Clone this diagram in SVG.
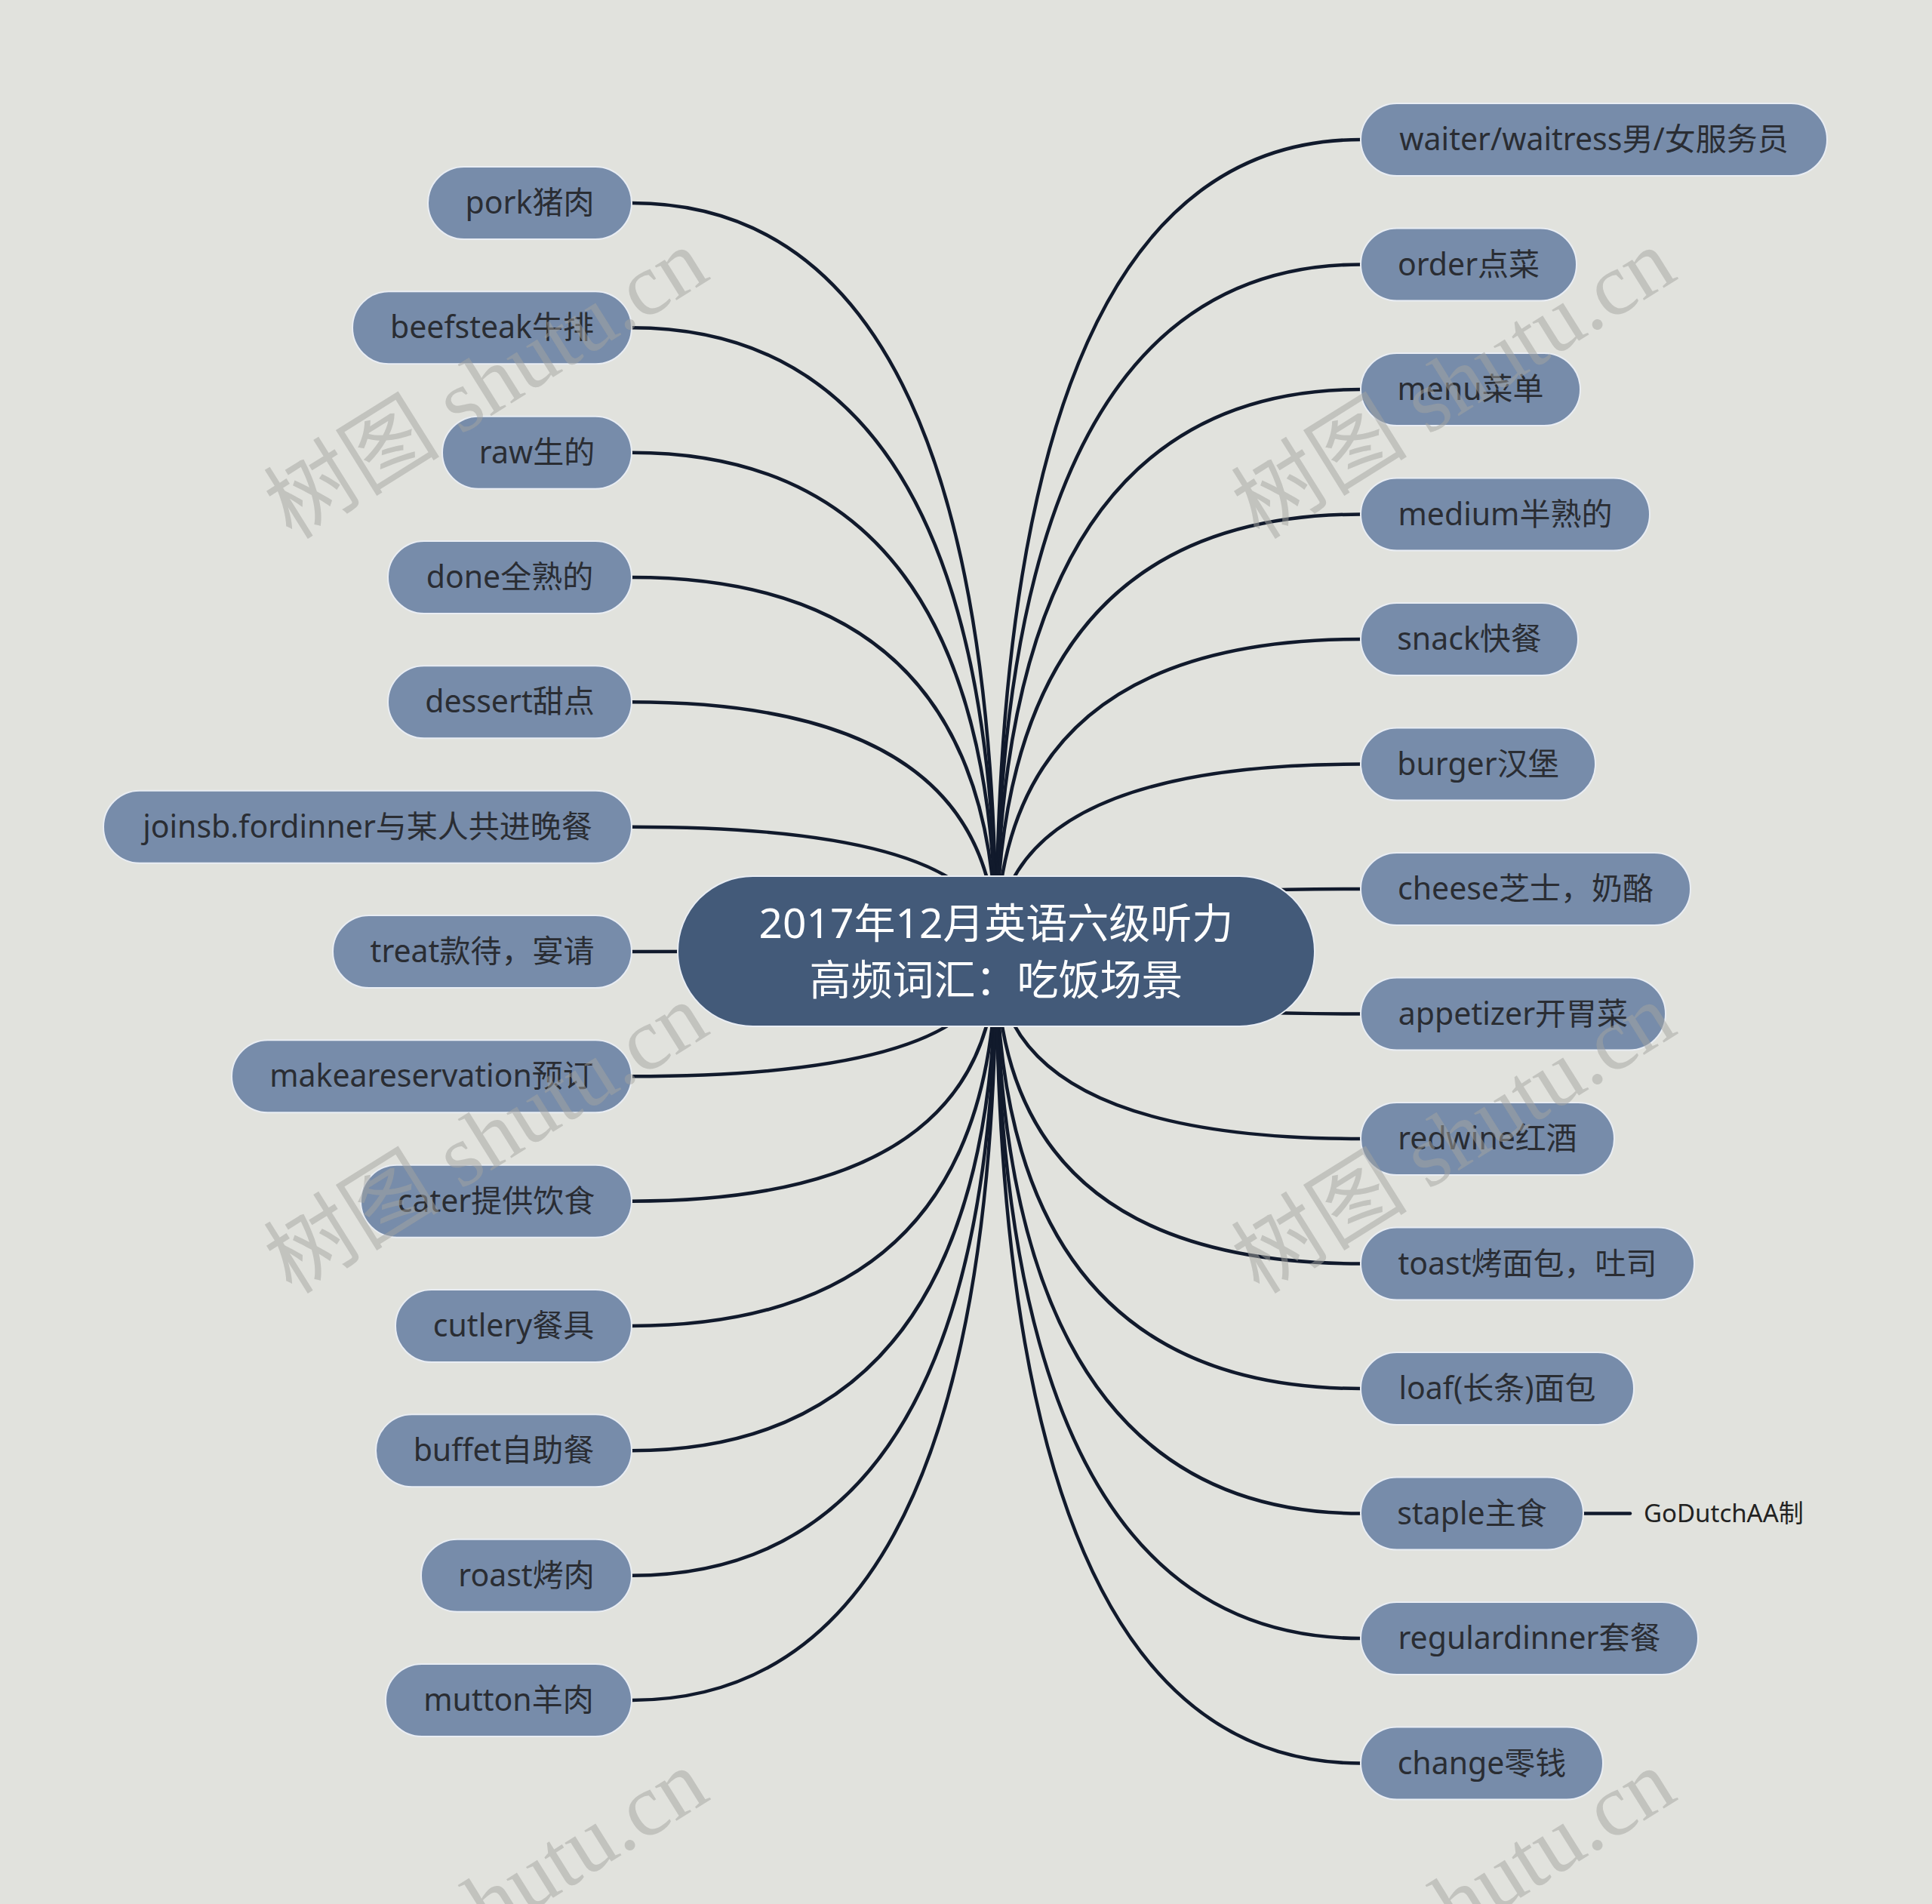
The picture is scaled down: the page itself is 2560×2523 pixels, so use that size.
<svg xmlns="http://www.w3.org/2000/svg" width="2560" height="2523" viewBox="0 0 2560 2523">
<style>
.bg{fill:#e1e2dd}
.link{fill:none;stroke:#111a2c;stroke-width:4.5;stroke-linecap:round}
.node rect{fill:#778caa;stroke:#e9edf3;stroke-width:2}
.node text{font-family:"Noto Sans","Noto Sans CJK SC",sans-serif;font-size:41px;fill:#2a2d33;text-anchor:middle}
.root rect{fill:#435a79;stroke:#e9edf3;stroke-width:2}
.root text{font-family:"Noto Sans","Noto Sans CJK SC",sans-serif;font-size:55px;fill:#ffffff;text-anchor:middle}
.label{font-family:"Noto Sans","Noto Sans CJK SC",sans-serif;font-size:33px;fill:#222222}
.wm{font-family:"Liberation Serif","Noto Sans CJK SC",serif;font-size:117px;fill:#a3a3a0;fill-opacity:0.5;text-anchor:middle}
</style>
<rect class="bg" x="0" y="0" width="2560" height="2523"/>
<g id="connectors">
<path class="link" d="M1320 1260 Q1320 269 837 269"/>
<path class="link" d="M1320 1260 Q1320 434.3 837 434.3"/>
<path class="link" d="M1320 1260 Q1320 599.7 837 599.7"/>
<path class="link" d="M1320 1260 Q1320 765 837 765"/>
<path class="link" d="M1320 1260 Q1320 930.3 837 930.3"/>
<path class="link" d="M1320 1260 Q1320 1095.7 837 1095.7"/>
<path class="link" d="M1320 1260 L837 1261"/>
<path class="link" d="M1320 1260 Q1320 1426.3 837 1426.3"/>
<path class="link" d="M1320 1260 Q1320 1591.7 837 1591.7"/>
<path class="link" d="M1320 1260 Q1320 1757 837 1757"/>
<path class="link" d="M1320 1260 Q1320 1922.3 837 1922.3"/>
<path class="link" d="M1320 1260 Q1320 2087.7 837 2087.7"/>
<path class="link" d="M1320 1260 Q1320 2253 837 2253"/>
<path class="link" d="M1320 1260 Q1320 185 1803 185"/>
<path class="link" d="M1320 1260 Q1320 350.5 1803 350.5"/>
<path class="link" d="M1320 1260 Q1320 516 1803 516"/>
<path class="link" d="M1320 1260 Q1320 681.5 1803 681.5"/>
<path class="link" d="M1320 1260 Q1320 847 1803 847"/>
<path class="link" d="M1320 1260 Q1320 1012.5 1803 1012.5"/>
<path class="link" d="M1320 1260 Q1320 1178 1803 1178"/>
<path class="link" d="M1320 1260 Q1320 1343.5 1803 1343.5"/>
<path class="link" d="M1320 1260 Q1320 1509 1803 1509"/>
<path class="link" d="M1320 1260 Q1320 1674.5 1803 1674.5"/>
<path class="link" d="M1320 1260 Q1320 1840 1803 1840"/>
<path class="link" d="M1320 1260 Q1320 2005.5 1803 2005.5"/>
<path class="link" d="M1320 1260 Q1320 2171 1803 2171"/>
<path class="link" d="M1320 1260 Q1320 2336.5 1803 2336.5"/>
<path class="link" d="M2098 2005.5 L2160 2005.5"/>
</g>
<g id="root" class="root">
<rect x="898" y="1161" width="844" height="199" rx="99.5"/>
<text x="1320" y="1243">2017年12月英语六级听力</text>
<text x="1320" y="1318">高频词汇：吃饭场景</text>
</g>
<g id="n-pork" class="node"><rect x="567" y="221" width="270" height="96" rx="48"/><text x="702" y="283">pork猪肉</text></g>
<g id="n-beefsteak" class="node"><rect x="467" y="386.3" width="370" height="96" rx="48"/><text x="652" y="448.3">beefsteak牛排</text></g>
<g id="n-raw" class="node"><rect x="586" y="551.7" width="251" height="96" rx="48"/><text x="711.5" y="613.7">raw生的</text></g>
<g id="n-done" class="node"><rect x="514" y="717" width="323" height="96" rx="48"/><text x="675.5" y="779">done全熟的</text></g>
<g id="n-dessert" class="node"><rect x="514" y="882.3" width="323" height="96" rx="48"/><text x="675.5" y="944.3">dessert甜点</text></g>
<g id="n-join" class="node"><rect x="137" y="1047.7" width="700" height="96" rx="48"/><text x="487" y="1109.7">joinsb.fordinner与某人共进晚餐</text></g>
<g id="n-treat" class="node"><rect x="441" y="1213" width="396" height="96" rx="48"/><text x="639" y="1275">treat款待，宴请</text></g>
<g id="n-make" class="node"><rect x="307" y="1378.3" width="530" height="96" rx="48"/><text x="572" y="1440.3">makeareservation预订</text></g>
<g id="n-cater" class="node"><rect x="478" y="1543.7" width="359" height="96" rx="48"/><text x="657.5" y="1605.7">cater提供饮食</text></g>
<g id="n-cutlery" class="node"><rect x="524" y="1709" width="313" height="96" rx="48"/><text x="680.5" y="1771">cutlery餐具</text></g>
<g id="n-buffet" class="node"><rect x="498" y="1874.3" width="339" height="96" rx="48"/><text x="667.5" y="1936.3">buffet自助餐</text></g>
<g id="n-roast" class="node"><rect x="558" y="2039.7" width="279" height="96" rx="48"/><text x="697.5" y="2101.7">roast烤肉</text></g>
<g id="n-mutton" class="node"><rect x="511" y="2205" width="326" height="96" rx="48"/><text x="674" y="2267">mutton羊肉</text></g>
<g id="n-waiter" class="node"><rect x="1803" y="137" width="618" height="96" rx="48"/><text x="2112" y="199">waiter/waitress男/女服务员</text></g>
<g id="n-order" class="node"><rect x="1803" y="302.5" width="286" height="96" rx="48"/><text x="1946" y="364.5">order点菜</text></g>
<g id="n-menu" class="node"><rect x="1803" y="468" width="291" height="96" rx="48"/><text x="1948.5" y="530">menu菜单</text></g>
<g id="n-medium" class="node"><rect x="1803" y="633.5" width="383" height="96" rx="48"/><text x="1994.5" y="695.5">medium半熟的</text></g>
<g id="n-snack" class="node"><rect x="1803" y="799" width="288" height="96" rx="48"/><text x="1947" y="861">snack快餐</text></g>
<g id="n-burger" class="node"><rect x="1803" y="964.5" width="311" height="96" rx="48"/><text x="1958.5" y="1026.5">burger汉堡</text></g>
<g id="n-cheese" class="node"><rect x="1803" y="1130" width="437" height="96" rx="48"/><text x="2021.5" y="1192">cheese芝士，奶酪</text></g>
<g id="n-appetizer" class="node"><rect x="1803" y="1295.5" width="404" height="96" rx="48"/><text x="2005" y="1357.5">appetizer开胃菜</text></g>
<g id="n-redwine" class="node"><rect x="1803" y="1461" width="336" height="96" rx="48"/><text x="1971" y="1523">redwine红酒</text></g>
<g id="n-toast" class="node"><rect x="1803" y="1626.5" width="442" height="96" rx="48"/><text x="2024" y="1688.5">toast烤面包，吐司</text></g>
<g id="n-loaf" class="node"><rect x="1803" y="1792" width="362" height="96" rx="48"/><text x="1984" y="1854">loaf(长条)面包</text></g>
<g id="n-staple" class="node"><rect x="1803" y="1957.5" width="295" height="96" rx="48"/><text x="1950.5" y="2019.5">staple主食</text></g>
<g id="n-regular" class="node"><rect x="1803" y="2123" width="447" height="96" rx="48"/><text x="2026.5" y="2185">regulardinner套餐</text></g>
<g id="n-change" class="node"><rect x="1803" y="2288.5" width="321" height="96" rx="48"/><text x="1963.5" y="2350.5">change零钱</text></g>
<g id="n-godutch"><text class="label" x="2178" y="2017">GoDutchAA制</text></g>
<g id="watermarks">
<text class="wm" x="645" y="548" transform="rotate(-32 645 510)">树图 shutu.cn</text>
<text class="wm" x="1927" y="548" transform="rotate(-32 1927 510)">树图 shutu.cn</text>
<text class="wm" x="645" y="1548" transform="rotate(-32 645 1510)">树图 shutu.cn</text>
<text class="wm" x="1927" y="1548" transform="rotate(-32 1927 1510)">树图 shutu.cn</text>
<text class="wm" x="645" y="2563" transform="rotate(-32 645 2525)">树图 shutu.cn</text>
<text class="wm" x="1927" y="2563" transform="rotate(-32 1927 2525)">树图 shutu.cn</text>
</g>
</svg>
